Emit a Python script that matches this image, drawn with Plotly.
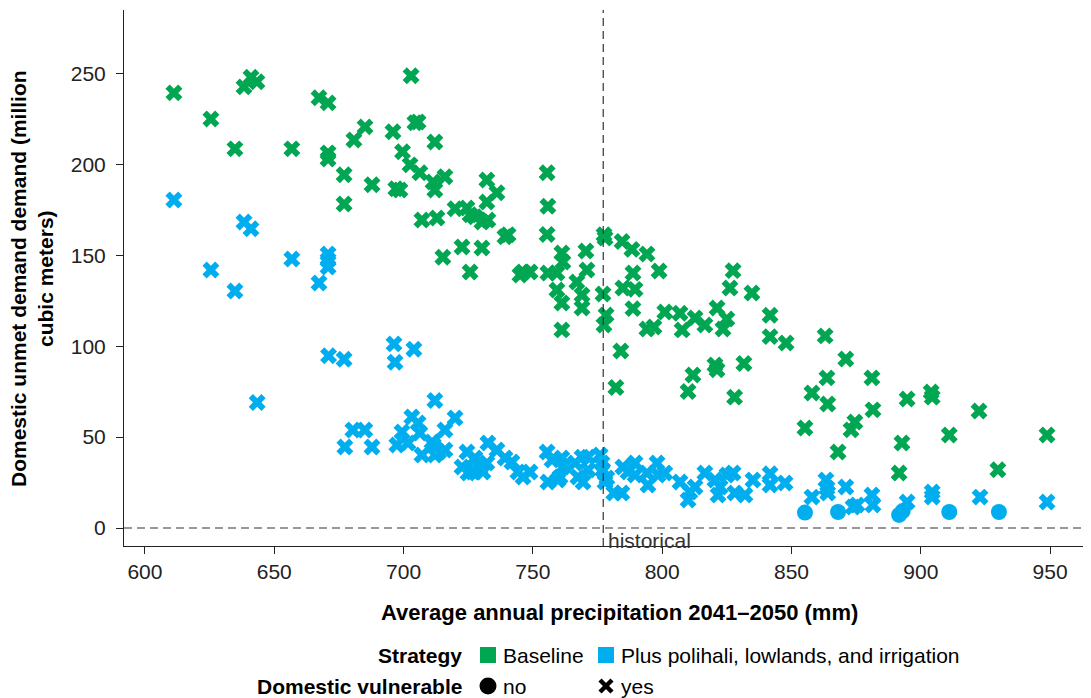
import plotly.graph_objects as go

# ---------------- data ----------------
baseline_precip = [611.2, 625.5, 634.8, 638.3, 641.0, 643.3, 656.8, 667.3, 670.8, 670.8, 670.8, 677.0, 677.0,
                   680.8, 685.1, 687.8, 695.9, 697.0, 698.6, 699.6, 702.9, 704.4, 705.6, 702.5, 706.3, 712.1,
                   711.4, 712.1, 716.0, 707.1, 712.9, 715.2, 719.9, 724.5, 725.7, 727.6, 730.3, 732.6, 732.2,
                   736.1, 732.2, 722.6, 730.3, 725.7, 739.2, 740.4, 755.5, 755.8, 755.5, 745.0, 746.2, 748.9,
                   755.8, 759.3, 761.2, 761.6, 759.3, 761.2, 761.2, 770.5, 770.9, 767.0, 769.0, 769.0, 777.5,
                   777.9, 777.1, 778.3, 777.5, 784.5, 788.3, 794.1, 798.8, 788.7, 784.8, 789.5, 788.7, 784.0,
                   782.1, 801.0, 806.9, 807.7, 812.7, 816.5, 794.1, 796.8, 821.2, 825.0, 823.5, 827.4, 826.2,
                   834.7, 841.7, 841.7, 847.9, 811.9, 810.0, 820.4, 821.2, 831.6, 828.0, 863.0, 871.0, 863.7,
                   881.1, 857.9, 864.0, 881.5, 874.5, 873.0, 855.2, 868.0, 894.7, 892.7, 891.6, 904.0, 904.4,
                   911.0, 922.5, 929.8, 948.8]
baseline_unmet = [239.4, 225.0, 208.6, 242.7, 248.0, 245.5, 208.6, 236.7, 233.9, 206.4, 203.0, 194.3, 178.3,
                  213.5, 220.7, 188.8, 218.0, 186.6, 186.0, 207.0, 248.8, 223.0, 223.4, 199.8, 195.4, 212.4,
                  190.4, 186.0, 193.2, 169.5, 170.6, 149.0, 175.6, 176.1, 172.3, 171.2, 168.4, 169.5, 191.5,
                  184.4, 179.4, 154.6, 154.1, 140.9, 160.2, 161.3, 195.4, 177.0, 161.5, 139.2, 140.9, 140.9,
                  140.3, 140.3, 151.3, 146.4, 131.0, 123.8, 109.0, 152.4, 142.0, 135.4, 128.2, 121.0, 161.3,
                  159.6, 128.8, 117.2, 111.7, 157.6, 153.3, 150.8, 141.4, 140.3, 132.1, 131.3, 120.7, 97.4,
                  77.3, 118.9, 118.1, 109.0, 115.6, 111.7, 109.5, 110.6, 121.0, 115.0, 109.5, 141.6, 132.0,
                  129.3, 117.0, 105.3, 101.8, 84.2, 75.1, 89.7, 87.0, 90.5, 72.0, 105.7, 93.0, 82.6,
                  82.6, 74.3, 68.2, 65.0, 58.3, 54.0, 55.0, 41.8, 71.0, 46.8, 30.3, 74.8, 72.0,
                  51.2, 64.4, 32.0, 51.2]

plus_precip = [611.2, 625.5, 634.8, 638.3, 641.0, 656.8, 670.8, 670.8, 670.8, 667.3, 643.4, 671.0, 677.0,
               696.3, 696.7, 704.0, 712.1, 677.3, 680.4, 685.0, 687.8, 697.4, 699.4, 703.2, 705.6, 706.3,
               701.7, 707.1, 711.0, 712.1, 716.0, 716.0, 719.9, 711.5, 713.5, 724.5, 722.6, 724.9, 727.6,
               729.5, 732.2, 732.6, 736.1, 739.2, 741.9, 726.8, 730.7, 744.2, 746.2, 748.9, 755.5, 757.4,
               761.2, 761.6, 760.5, 755.8, 759.7, 766.3, 769.0, 771.3, 767.4, 769.4, 771.3, 776.0, 776.7,
               777.0, 778.6, 777.9, 781.3, 784.4, 784.8, 789.5, 789.5, 786.8, 794.1, 794.5, 798.0, 798.4,
               801.0, 806.9, 810.0, 810.7, 812.7, 816.5, 820.4, 821.6, 822.4, 825.0, 827.4, 828.1, 832.0,
               835.1, 841.7, 841.7, 847.5, 857.9, 863.3, 863.7, 864.0, 871.0, 873.8, 875.3, 881.1, 881.5,
               894.7, 904.4, 904.4, 922.9, 948.8]
plus_unmet = [180.5, 142.0, 130.4, 168.4, 164.6, 148.0, 150.8, 147.5, 143.6, 134.8, 69.0, 94.8, 92.8,
              101.3, 91.2, 98.3, 70.1, 44.6, 53.9, 53.9, 44.6, 45.7, 52.8, 61.1, 57.8, 52.3,
              46.8, 40.2, 47.3, 40.2, 53.9, 42.9, 60.5, 45.7, 41.8, 41.8, 33.6, 30.3, 38.5,
              33.0, 35.8, 46.8, 42.9, 38.5, 36.3, 30.8, 30.8, 30.8, 28.0, 30.8, 41.8, 37.4,
              38.5, 33.6, 28.0, 25.3, 26.4, 35.8, 39.0, 39.0, 28.0, 25.3, 31.9, 40.2, 35.8,
              32.0, 27.5, 25.3, 19.3, 19.3, 33.6, 35.8, 29.2, 30.8, 30.3, 23.7, 35.8, 29.2,
              30.3, 25.3, 15.4, 19.8, 22.6, 30.3, 26.4, 18.2, 22.6, 29.2, 30.3, 19.3, 18.2,
              26.4, 29.8, 23.7, 24.8, 17.0, 26.4, 22.0, 19.3, 22.6, 11.6, 12.7, 18.2, 12.7,
              14.3, 19.8, 17.0, 17.0, 14.3]

plus_novuln_precip = [855.2, 868.0, 891.6, 893.0, 911.0, 930.2]
plus_novuln_unmet = [8.5, 8.8, 7.2, 9.3, 8.8, 8.8]

historical_precip = 777.2
x_ticks = [600, 650, 700, 750, 800, 850, 900, 950]
y_ticks = [0, 50, 100, 150, 200, 250]

strategy_labels = ["Baseline", "Plus polihali, lowlands, and irrigation"]
vulnerable_labels = ["no", "yes"]

GREEN = "#00A651"
BLUE = "#00AEEF"
FONT = "Liberation Sans, Arial, sans-serif"
INK = "#222222"

# The page body adds an 8px margin; positions below are window pixels, shifted by OFF.
OFF = 8
W, H = 1091 - OFF, 698 - OFF
L, R, T, B = 124 - OFF, 1091 - OFF, 10 - OFF, 546 - OFF


def px(xw):
    return ((xw - OFF) - L) / (R - L)


def py(yw):
    return (B - (yw - OFF)) / (B - T)


fig = go.Figure()

fig.add_trace(go.Scatter(x=plus_precip, y=plus_unmet, mode="markers", showlegend=False,
                         marker=dict(symbol="x", size=15, color=BLUE, line=dict(width=0))))
fig.add_trace(go.Scatter(x=baseline_precip, y=baseline_unmet, mode="markers", showlegend=False,
                         marker=dict(symbol="x", size=15, color=GREEN, line=dict(width=0))))
fig.add_trace(go.Scatter(x=plus_novuln_precip, y=plus_novuln_unmet, mode="markers", showlegend=False,
                         marker=dict(symbol="circle", size=16, color=BLUE, line=dict(width=0))))

# reference lines
fig.add_shape(type="line", xref="paper", x0=0, x1=1, yref="y", y0=0, y1=0,
              line=dict(color="#333333", width=1.2, dash="8px,5px"))
fig.add_shape(type="line", xref="x", x0=historical_precip, x1=historical_precip, yref="paper", y0=0, y1=1,
              line=dict(color="#333333", width=1.2, dash="8px,5px"))
fig.add_annotation(x=historical_precip, y=0, xref="x", yref="y", text="historical", showarrow=False,
                   xanchor="left", yanchor="top", xshift=3, yshift=1,
                   font=dict(family=FONT, size=21, color="#333333"))

# axis titles
fig.add_annotation(x=px(619), y=py(612), xref="paper", yref="paper",
                   text="<b>Average annual precipitation 2041–2050 (mm)</b>", showarrow=False,
                   xanchor="center", yanchor="middle", font=dict(family=FONT, size=22, color="black"))
fig.add_annotation(x=px(32), y=py(279), xref="paper", yref="paper",
                   text="<b>Domestic unmet demand demand (million<br>cubic meters)</b>", showarrow=False,
                   textangle=-90, xanchor="center", yanchor="middle",
                   font=dict(family=FONT, size=21, color="black"))

# ---------- legend (keys drawn as shapes, labels as text) ----------
row1, row2 = 655, 686
fig.add_annotation(x=px(464), y=py(row1), xref="paper", yref="paper", text="<b>Strategy</b>",
                   showarrow=False, xanchor="right", yanchor="middle",
                   font=dict(family=FONT, size=21, color="black"))
fig.add_annotation(x=px(464), y=py(row2), xref="paper", yref="paper", text="<b>Domestic vulnerable</b>",
                   showarrow=False, xanchor="right", yanchor="middle",
                   font=dict(family=FONT, size=21, color="black"))
key_x = [488, 606]
for cx, col, lab in zip(key_x, [GREEN, BLUE], strategy_labels):
    fig.add_shape(type="rect", xref="paper", yref="paper",
                  x0=px(cx - 8), x1=px(cx + 8), y0=py(row1 + 8), y1=py(row1 - 8),
                  line=dict(width=0), fillcolor=col)
    fig.add_annotation(x=px(cx + 13), y=py(row1), xref="paper", yref="paper", text=lab,
                       showarrow=False, xanchor="left", yanchor="middle",
                       font=dict(family=FONT, size=21, color="black"))
# circle key
fig.add_shape(type="circle", xref="paper", yref="paper",
              x0=px(key_x[0] - 8.5), x1=px(key_x[0] + 8.5), y0=py(row2 + 8.5), y1=py(row2 - 8.5),
              line=dict(width=0), fillcolor="black")
# x key
for (ax, ay, bx, by) in [(-6, -6, 6, 6), (-6, 6, 6, -6)]:
    fig.add_shape(type="line", xref="paper", yref="paper",
                  x0=px(key_x[1] + ax), x1=px(key_x[1] + bx), y0=py(row2 + ay), y1=py(row2 + by),
                  line=dict(color="black", width=4.5))
for cx, lab in zip(key_x, vulnerable_labels):
    fig.add_annotation(x=px(cx + 13), y=py(row2), xref="paper", yref="paper", text=lab,
                       showarrow=False, xanchor="left", yanchor="middle",
                       font=dict(family=FONT, size=21, color="black"))

fig.update_layout(
    autosize=True,
    margin=dict(l=L, r=W - R, t=T, b=H - B, autoexpand=False),
    paper_bgcolor="white", plot_bgcolor="white",
    showlegend=False,
    font=dict(family=FONT, size=21, color=INK),
    xaxis=dict(range=[591.9, 965.8], tickvals=x_ticks, showgrid=False, zeroline=False,
               showline=True, linecolor=INK, linewidth=1, ticks="outside", ticklen=7,
               tickcolor=INK, tickfont=dict(family=FONT, size=21, color=INK), automargin=False),
    yaxis=dict(range=[-9.9, 285], tickvals=y_ticks, showgrid=False, zeroline=False,
               showline=True, linecolor=INK, linewidth=1, ticks="outside", ticklen=7,
               tickcolor=INK, tickfont=dict(family=FONT, size=21, color=INK), ticklabelstandoff=6,
               automargin=False),
)

fig.write_html("out.html", default_width=f"{W}px", default_height=f"{H}px")
